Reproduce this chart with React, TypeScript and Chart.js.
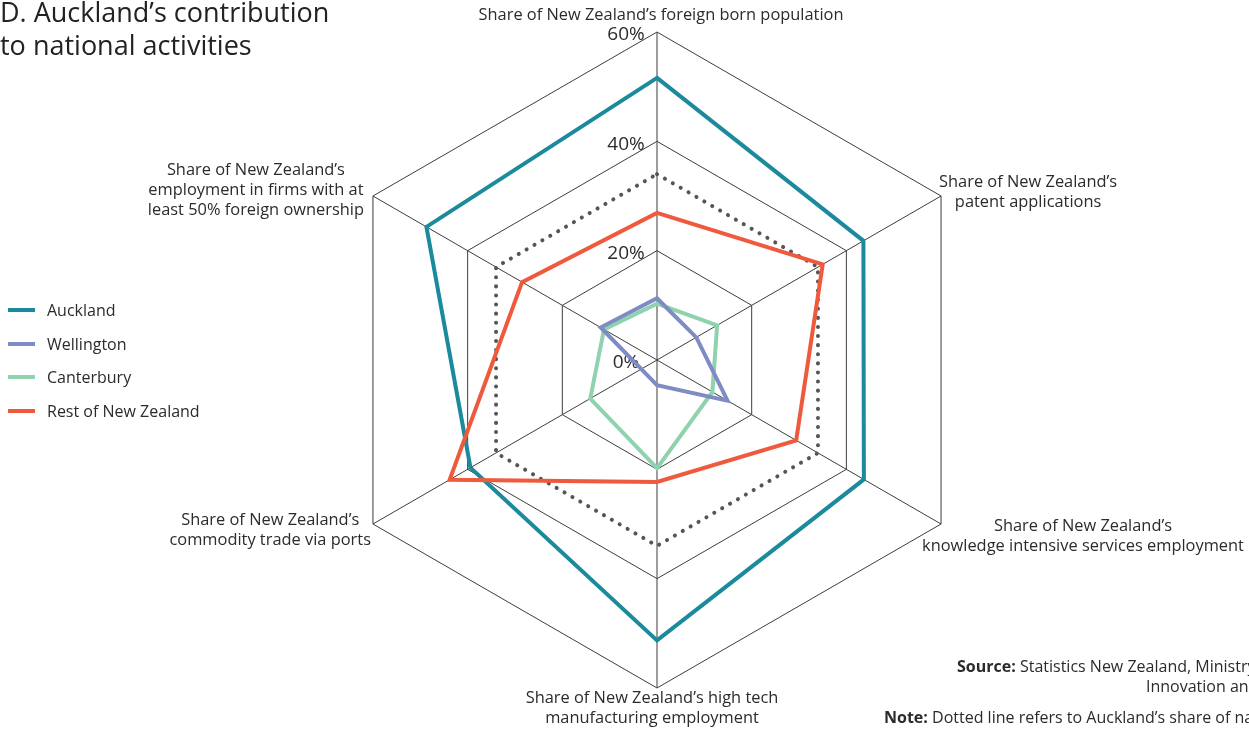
import { useEffect, useRef } from "react";
import { Chart, registerables } from "chart.js";

Chart.register(...registerables);

// Axis labels, clockwise from the top
const axisLabels: string[][] = [
  ["Share of New Zealand’s foreign born population"],
  ["Share of New Zealand’s", "patent applications"],
  ["Share of New Zealand’s", "knowledge intensive services employment"],
  ["Share of New Zealand’s high tech", "manufacturing employment"],
  ["Share of New Zealand’s", "commodity trade via ports"],
  ["Share of New Zealand’s", "employment in firms with at", "least 50% foreign ownership"],
];

const tickValues = [0, 20, 40, 60];

// Shares of the national total, in percent
const auckland = [51.6, 43.6, 43.7, 51.3, 39.4, 48.7];
const wellington = [11.3, 8.3, 14.9, 4.6, 3.3, 11.9];
const canterbury = [10.3, 12.7, 11.7, 19.8, 14.1, 11.2];
const restOfNZ = [26.9, 35.0, 29.4, 22.3, 43.8, 28.5];
// Auckland's share of national population (dotted reference ring)
const populationShare = [34, 34, 34, 34, 34, 34];

const seriesNames = ["Auckland", "Wellington", "Canterbury", "Rest of New Zealand"];
const seriesColors = ["#1b8a9c", "#7f8cc4", "#8fd2ae", "#ef5a3d"];

const FONT = '"Open Sans", "Noto Sans", sans-serif';
const TEXT = "#2b2b2b";
const GRID = "#3d3d3d";

// Where each axis label block sits relative to its outer vertex
const labelPlacement = [
  { anchor: "center", dx: 4, dy: -17 },
  { anchor: "left", dx: -2, dy: -14 },
  { anchor: "left", dx: -19, dy: 2 },
  { anchor: "center", dx: -5, dy: 10 },
  { anchor: "right", dx: -2, dy: -4 },
  { anchor: "right", dx: -9, dy: -26 },
];

const tickLabelPlugin = {
  id: "tickLabels",
  beforeDatasetsDraw(chart: any) {
    const scale = chart.scales.r;
    const ctx = chart.ctx;
    ctx.save();
    ctx.font = `19px ${FONT}`;
    ctx.fillStyle = TEXT;
    ctx.textAlign = "center";
    ctx.textBaseline = "middle";
    tickValues.forEach((v) => {
      const r = scale.getDistanceFromCenterForValue(v);
      ctx.fillText(`${v}%`, scale.xCenter - 31, scale.yCenter - r + 3);
    });
    ctx.restore();
  },
};

const axisLabelPlugin = {
  id: "axisLabels",
  afterDraw(chart: any) {
    const scale = chart.scales.r;
    const ctx = chart.ctx;
    ctx.save();
    ctx.font = `16.4px ${FONT}`;
    ctx.fillStyle = TEXT;
    ctx.textAlign = "center";
    ctx.textBaseline = "middle";
    axisLabels.forEach((lines, i) => {
      const p = scale.getPointPosition(i, scale.drawingArea);
      const place = labelPlacement[i];
      const w = Math.max(...lines.map((l) => ctx.measureText(l).width));
      let cx = p.x + place.dx;
      if (place.anchor === "left") cx += w / 2;
      else if (place.anchor === "right") cx -= w / 2;
      lines.forEach((l, j) => ctx.fillText(l, cx, p.y + place.dy + j * 20));
    });
    ctx.restore();
  },
};

function RadarChart() {
  const canvasRef = useRef<HTMLCanvasElement | null>(null);

  useEffect(() => {
    const canvas = canvasRef.current;
    if (!canvas) return;
    const seriesData = [auckland, wellington, canterbury, restOfNZ];
    const drawOrder = [4, 2, 3, 1];
    const datasets: any[] = seriesNames.map((name, i) => ({
      label: name,
      data: seriesData[i],
      borderColor: seriesColors[i],
      backgroundColor: seriesColors[i],
      borderWidth: 4,
      borderJoinStyle: "miter",
      fill: false,
      pointRadius: 0,
      pointHoverRadius: 0,
      order: drawOrder[i],
    }));
    datasets.push({
      label: "Population share",
      data: populationShare,
      borderColor: "#555555",
      borderWidth: 4,
      borderDash: [0.1, 9],
      borderCapStyle: "round",
      fill: false,
      pointRadius: 0,
      order: 5,
    });

    const chart = new Chart(canvas, {
      type: "radar",
      data: { labels: axisLabels.map((l) => l.join(" ")), datasets },
      options: {
        responsive: false,
        animation: false,
        devicePixelRatio: 1,
        layout: { padding: { top: 32, bottom: 41, left: 257, right: 192 } },
        plugins: { legend: { display: false }, tooltip: { enabled: false } },
        scales: {
          r: {
            min: 0,
            max: 60,
            ticks: { stepSize: 20, display: false },
            pointLabels: { display: false },
            grid: { color: GRID, lineWidth: 1 },
            angleLines: { color: GRID, lineWidth: 1 },
          },
        },
      },
      plugins: [tickLabelPlugin, axisLabelPlugin],
    });
    return () => chart.destroy();
  }, []);

  return (
    <canvas
      ref={canvasRef}
      width={1249}
      height={729}
      style={{ position: "absolute", left: 0, top: 0, width: 1249, height: 729 }}
    />
  );
}

export default function App() {
  const abs = (left: number, top: number) => ({
    position: "absolute" as const,
    left,
    top,
    whiteSpace: "nowrap" as const,
  });
  return (
    <div
      style={{
        position: "absolute",
        left: 0,
        top: 0,
        width: 1249,
        height: 729,
        overflow: "hidden",
        background: "#ffffff",
        fontFamily: FONT,
        color: TEXT,
      }}
    >
      <RadarChart />
      <div style={{ ...abs(0, -5), fontSize: 27, lineHeight: "33px", color: "#222", fontWeight: 500 }}>
        D. Auckland’s contribution
        <br />
        to national activities
      </div>
      {seriesNames.map((name, i) => (
        <div
          key={name}
          style={{ ...abs(8, 300 + i * 33.5), display: "flex", alignItems: "center", height: 20, fontSize: 16 }}
        >
          <span style={{ display: "inline-block", width: 27, height: 4, background: seriesColors[i] }} />
          <span style={{ marginLeft: 12 }}>{name}</span>
        </div>
      ))}
      <div style={{ ...abs(957, 655), fontSize: 16 }}>
        <b>Source:</b> Statistics New Zealand, Ministry of Business,
      </div>
      <div style={{ ...abs(1146, 675), fontSize: 16 }}>Innovation and Employment</div>
      <div style={{ ...abs(884, 706), fontSize: 16 }}>
        <b>Note:</b> Dotted line refers to Auckland’s share of national population
      </div>
    </div>
  );
}
